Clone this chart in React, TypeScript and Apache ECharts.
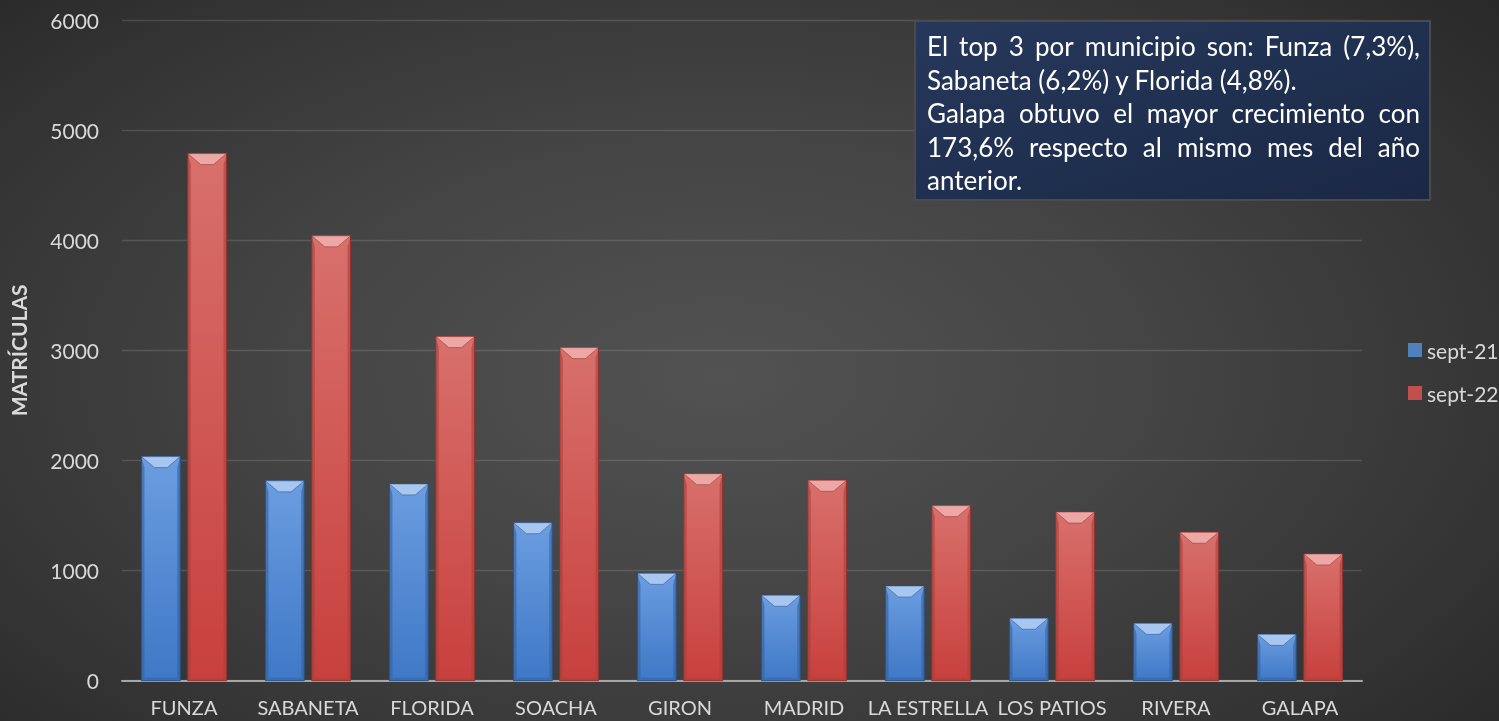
import React, { useEffect, useRef } from "react";
import * as echarts from "echarts";

const categories = ["FUNZA", "SABANETA", "FLORIDA", "SOACHA", "GIRON", "MADRID", "LA ESTRELLA", "LOS PATIOS", "RIVERA", "GALAPA"];
const sept21 = [2035, 1815, 1787, 1435, 975, 776, 860, 567, 521, 421];
const sept22 = [4787, 4040, 3125, 3025, 1880, 1820, 1590, 1532, 1348, 1151];
const seriesNames = ["sept-21", "sept-22"];
const yAxisTitle = "MATRÍCULAS";
const noteLines = [
  "El top 3 por municipio son: Funza (7,3%),",
  "Sabaneta (6,2%) y Florida (4,8%).",
  "Galapa obtuvo el mayor crecimiento con",
  "173,6% respecto al mismo mes del año",
  "anterior.",
];
const noteJustified = [true, false, true, true, false];

const FONT = "Lato";

const palettes = [
  { top: "#6b9de0", bottom: "#3f78c6", face: "#a8c7f0", side: "#34619f", edge: "#2a4f82", legend: "#4f81bd" },
  { top: "#d8706c", bottom: "#c8403d", face: "#eda7a4", side: "#a8403c", edge: "#8c2f2c", legend: "#c0504d" },
];

function makeRender(side: number) {
  const pal = palettes[side];
  return (params: any, api: any) => {
    const idx = api.value(0);
    const val = api.value(1);
    const top = api.coord([idx, val]);
    const base = api.coord([idx, 0]);
    const band = api.size([1, 0])[0];
    const w = band * 0.3125;
    const gap = band * 0.061;
    const x = side === 0 ? top[0] - gap / 2 - w : top[0] + gap / 2;
    const y = top[1];
    const h = base[1] - top[1];
    const d = Math.min(11, h / 2);
    const dx = Math.min(13, w / 2);
    const s = 3;
    return {
      type: "group",
      children: [
        {
          type: "rect",
          shape: { x, y, width: w, height: h },
          style: {
            fill: new echarts.graphic.LinearGradient(0, 0, 0, 1, [
              { offset: 0, color: pal.top },
              { offset: 1, color: pal.bottom },
            ]),
            stroke: pal.edge,
            lineWidth: 1,
          },
        },
        {
          type: "polygon",
          shape: { points: [[x, y + h], [x + s, y + h - s], [x + w - s, y + h - s], [x + w, y + h]] },
          style: { fill: pal.side, opacity: 0.5 },
        },
        {
          type: "polygon",
          shape: { points: [[x, y], [x + s, y + d], [x + s, y + h - s], [x, y + h]] },
          style: { fill: pal.side, opacity: 0.6 },
        },
        {
          type: "polygon",
          shape: { points: [[x + w, y], [x + w - s, y + d], [x + w - s, y + h - s], [x + w, y + h]] },
          style: { fill: pal.side, opacity: 0.6 },
        },
        {
          type: "polygon",
          shape: { points: [[x, y], [x + w, y], [x + w - dx, y + d], [x + dx, y + d]] },
          style: { fill: pal.face, stroke: pal.edge, lineWidth: 0.5 },
        },
      ],
    };
  };
}

function buildNote(): any[] {
  const canvas = document.createElement("canvas");
  const ctx = canvas.getContext("2d")!;
  ctx.font = `100px ${FONT}`;
  const ref = ctx.measureText(noteLines[1]).width;
  const size = Math.round((371 / ref) * 100 * 10) / 10;
  ctx.font = `${size}px ${FONT}`;
  const left = 927;
  const right = 1420;
  const y0 = 46;
  const lh = 33.5;
  const els: any[] = [
    {
      type: "rect",
      shape: { x: 915, y: 21, width: right - 915 + 10, height: 179 },
      style: {
        fill: new echarts.graphic.LinearGradient(0, 0, 1, 1, [
          { offset: 0, color: "#26385c" },
          { offset: 1, color: "#1a2844" },
        ]),
        stroke: "#4b4b4b",
        lineWidth: 2,
      },
      z: 100,
    },
  ];
  noteLines.forEach((line, i) => {
    const y = y0 + i * lh;
    const words = line.split(" ");
    if (noteJustified[i] && words.length > 1) {
      const widths = words.map((wd) => ctx.measureText(wd).width);
      const total = widths.reduce((a, b) => a + b, 0);
      const sp = (right - left - total) / (words.length - 1);
      let x = left;
      words.forEach((wd, k) => {
        els.push({
          type: "text",
          x,
          y,
          z: 101,
          style: { text: wd, fill: "#ffffff", font: `${size}px ${FONT}`, textAlign: "left", textVerticalAlign: "middle" },
        });
        x += widths[k] + sp;
      });
    } else {
      els.push({
        type: "text",
        x: left,
        y,
        z: 101,
        style: { text: line, fill: "#ffffff", font: `${size}px ${FONT}`, textAlign: "left", textVerticalAlign: "middle" },
      });
    }
  });
  return els;
}

export default function App() {
  const ref = useRef<HTMLDivElement>(null);
  useEffect(() => {
    if (!ref.current) return;
    const chart = echarts.init(ref.current, undefined, { renderer: "svg" });
    const mk = (vals: number[]) => vals.map((v, i) => [i, v]);
    chart.setOption({
      animation: false,
      backgroundColor: "transparent",
      textStyle: { fontFamily: FONT },
      grid: { left: 113, right: 137, top: 20, bottom: 40.3, containLabel: false },
      legend: {
        data: seriesNames,
        orient: "vertical",
        left: 1403,
        top: 333,
        itemWidth: 14,
        itemHeight: 14,
        itemGap: 19,
        icon: "rect",
        textStyle: { color: "#d9d9d9", fontSize: 21, fontFamily: FONT, lineHeight: 24 },
      },
      xAxis: {
        type: "category",
        data: categories,
        axisLine: { show: true, lineStyle: { color: "#a6a6a6", width: 2 } },
        axisTick: { show: false },
        axisLabel: { color: "#d9d9d9", fontSize: 20, fontFamily: FONT, interval: 0, margin: 16, lineHeight: 20 },
        splitLine: { show: false },
      },
      yAxis: {
        type: "value",
        min: 0,
        max: 6000,
        interval: 1000,
        name: yAxisTitle,
        nameLocation: "middle",
        nameRotate: 90,
        nameGap: 93,
        nameTextStyle: { color: "#d9d9d9", fontSize: 21, fontWeight: "bold", fontFamily: FONT },
        axisLine: { show: false },
        axisTick: { show: false },
        axisLabel: { color: "#d9d9d9", fontSize: 21, fontFamily: FONT, margin: 23, formatter: (v: number) => String(v) },
        splitLine: { lineStyle: { color: "rgba(255,255,255,0.13)", width: 1.3 } },
      },
      series: [
        {
          name: seriesNames[0],
          type: "custom",
          renderItem: makeRender(0),
          itemStyle: { color: palettes[0].legend },
          encode: { x: 0, y: 1 },
          data: mk(sept21),
        },
        {
          name: seriesNames[1],
          type: "custom",
          renderItem: makeRender(1),
          itemStyle: { color: palettes[1].legend },
          encode: { x: 0, y: 1 },
          data: mk(sept22),
        },
      ],
      graphic: buildNote(),
    });
    return () => chart.dispose();
  }, []);
  return (
    <div
      style={{
        position: "fixed",
        left: 0,
        top: 0,
        width: 1499,
        height: 721,
        background: "radial-gradient(ellipse 70% 80% at 48% 52%, #525252 0%, #454545 40%, #353535 75%, #282828 100%)",
      }}
    >
      <div ref={ref} style={{ width: 1499, height: 721 }} />
    </div>
  );
}
